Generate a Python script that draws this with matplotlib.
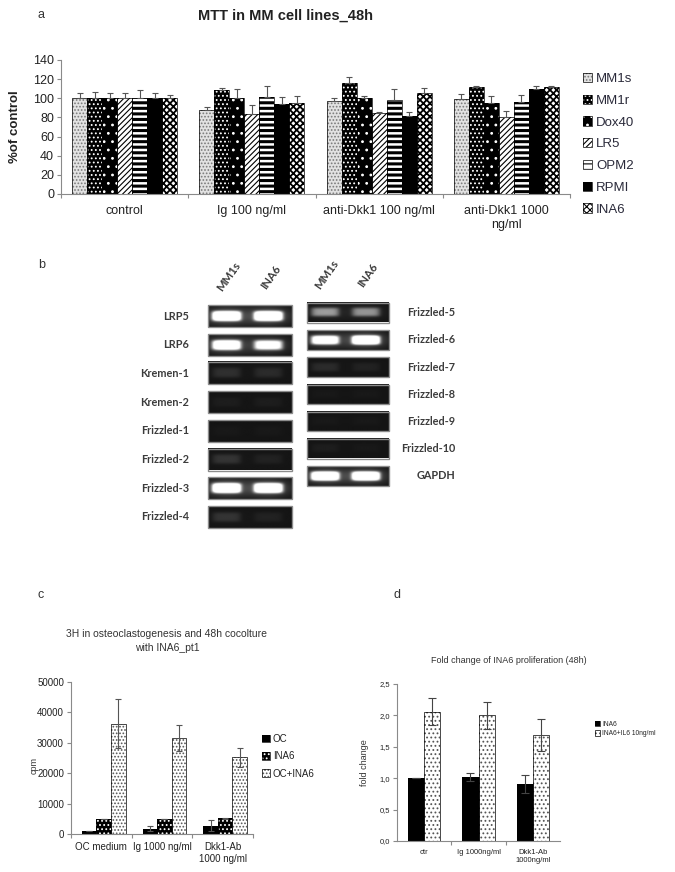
import matplotlib
matplotlib.use("Agg")
import matplotlib.pyplot as plt
from matplotlib.patches import Patch, Rectangle
import numpy as np

plt.rcParams['font.family'] = ['Liberation Sans', 'DejaVu Sans']
plt.rcParams['hatch.linewidth'] = 0.8

# ---- panel a data: MTT, % of control
mtt_groups = ["control", "Ig 100 ng/ml", "anti-Dkk1 100 ng/ml", "anti-Dkk1 1000\nng/ml"]
mtt_lines = ["MM1s", "MM1r", "Dox40", "LR5", "OPM2", "RPMI", "INA6"]
mtt_mean = [[100, 88, 97, 99],
            [100, 109, 116, 112],
            [100, 100, 100, 95],
            [100, 84, 85, 80],
            [100, 101, 98, 96],
            [100, 94, 81, 110],
            [100, 95, 105, 112]]
mtt_err = [[6, 3, 3, 5],
           [7, 2, 6, 1],
           [6, 10, 2, 7],
           [6, 9, 1, 7],
           [9, 12, 12, 7],
           [6, 7, 5, 3],
           [3, 7, 6, 1]]

# ---- panel b data: RT-PCR band strength (0 = none, 1 = saturated)
lanes = ["MM1s", "INA6"]
left_genes = ["LRP5", "LRP6", "Kremen-1", "Kremen-2", "Frizzled-1", "Frizzled-2", "Frizzled-3", "Frizzled-4"]
left_bands = [[1.0, 1.0], [0.85, 0.65], [0.06, 0.05], [0.02, 0.02],
              [0.01, 0.01], [0.07, 0.03], [1.0, 1.0], [0.07, 0.03]]
right_genes = ["Frizzled-5", "Frizzled-6", "Frizzled-7", "Frizzled-8", "Frizzled-9", "Frizzled-10", "GAPDH"]
right_bands = [[0.3, 0.28], [0.75, 1.0], [0.05, 0.03], [0.01, 0.01],
               [0.01, 0.01], [0.02, 0.01], [1.0, 1.0]]

# ---- panel c data: 3H, cpm
c_groups = ["OC medium", "Ig 1000 ng/ml", "Dkk1-Ab\n1000 ng/ml"]
c_series = ["OC", "INA6", "OC+INA6"]
c_mean = [[1000, 1700, 2700], [5000, 5000, 5100], [36300, 31600, 25200]]
c_err = [[0, 800, 1800], [0, 0, 200], [8000, 4200, 3100]]

# ---- panel d data: fold change
d_groups = ["ctr", "Ig 1000ng/ml", "Dkk1-Ab\n1000ng/ml"]
d_series = ["INA6", "INA6+IL6 10ng/ml"]
d_mean = [[1.0, 1.02, 0.91], [2.06, 2.0, 1.69]]
d_err = [[0, 0.06, 0.14], [0.21, 0.21, 0.26]]

W, H = 675, 872
fig = plt.figure(figsize=(W / 100, H / 100), dpi=100)

ov = fig.add_axes([0, 0, 1, 1])
ov.set_xlim(0, W)
ov.set_ylim(H, 0)
ov.axis('off')


def box(l, t, r, b):
    return fig.add_axes([l / W, 1 - b / H, (r - l) / W, (b - t) / H])


def hatched_bar(ax, x, h, w, fc, hc, hatch, hlw=None):
    bars = ax.bar(x, h, w, color=fc, edgecolor=hc, hatch=hatch, linewidth=0, zorder=2)
    if hlw is not None:
        for b in bars:
            try:
                b.set_hatch_linewidth(hlw)
            except AttributeError:
                pass
    ax.bar(x, h, w, fill=False, edgecolor='black', linewidth=0.5, zorder=3)


def legend_handles(styles):
    out = []
    for s in styles:
        p = Patch(facecolor=s[0], edgecolor=s[1], hatch=s[2], linewidth=0)
        frame = Patch(fill=False, edgecolor='black', linewidth=0.5)
        out.append((p, frame))
    return out


def style_axes(ax, tick_size):
    for s in ('top', 'right'):
        ax.spines[s].set_visible(False)
    for s in ('left', 'bottom'):
        ax.spines[s].set_color('#8a8a8a')
        ax.spines[s].set_linewidth(0.8)
    ax.tick_params(axis='y', direction='out', length=3, color='#8a8a8a',
                   labelsize=tick_size, labelcolor='#222222', pad=2)
    ax.tick_params(axis='x', which='major', direction='out', length=3,
                   color='#8a8a8a', labelbottom=False)
    ax.tick_params(axis='x', which='minor', length=0, labelsize=tick_size,
                   labelcolor='#222222')


# ================= panel a
ov.text(38, 15, "a", fontsize=9, va='center', color='#333333')
ov.text(285, 16, "MTT in MM cell lines_48h", fontsize=10.5, fontweight='bold',
        ha='center', va='center', color='#222222')

a_styles = [('#e2e2e2', '#7a7a7a', '.....', None),
            ('black', 'white', '....', None),
            ('black', 'white', '..', None),
            ('white', 'black', '//////', None),
            ('white', 'black', '---', 2.2),
            ('black', 'black', '', None),
            ('white', 'black', 'xxxxx', 1.3)]

ax = box(61, 60, 570, 194)
gx = np.arange(len(mtt_groups))
bw = 0.118
for i, name in enumerate(mtt_lines):
    fc, hc, hatch, hlw = a_styles[i]
    xs = gx + (i - 3) * bw
    hatched_bar(ax, xs, mtt_mean[i], bw, fc, hc, hatch, hlw)
    ax.errorbar(xs, mtt_mean[i], yerr=[np.zeros(len(gx)), mtt_err[i]], fmt='none',
                ecolor='#555555', elinewidth=0.8, capsize=2.5, capthick=0.8, zorder=4)
ax.set_xlim(-0.5, len(mtt_groups) - 0.5)
ax.set_ylim(0, 140)
ax.set_yticks(np.arange(0, 141, 20))
ax.set_xticks(np.arange(-0.5, len(mtt_groups), 1.0))
ax.set_xticks(gx, minor=True)
ax.set_xticklabels(mtt_groups, minor=True, fontsize=9)
style_axes(ax, 9)
ax.tick_params(axis='x', which='minor', pad=8)
ax.set_ylabel("%of control", fontsize=9.5, fontweight='bold', color='#222222')
ax.yaxis.set_label_coords(-0.078, 0.5)

ax.legend(legend_handles(a_styles), mtt_lines, loc='upper left',
          bbox_to_anchor=(583 / W, 1 - 73 / H),
          bbox_transform=fig.transFigure, frameon=False, fontsize=9.5,
          handlelength=0.7, handleheight=0.7, handletextpad=0.3,
          labelspacing=0.72, borderpad=0, borderaxespad=0, labelcolor='#2a2a3a')

# ================= panel b (gel)
ov.text(38, 265, "b", fontsize=9, va='center', color='#333333')
gel_font = dict(family=['Lato', 'DejaVu Sans'], fontweight='bold', fontsize=7.8, color='#3c3c3c')
lane_pos = [0.22, 0.72]


def band_image(levels, h=40, w=170):
    yy = np.linspace(-1, 1, h)[:, None]
    xx = np.linspace(0, 1, w)[None, :]
    img = np.full((h, w), 0.08)
    for c, v in zip(lane_pos, levels):
        core = np.exp(-((xx - c) / 0.17) ** 6) * np.exp(-(yy / 0.45) ** 4)
        glow = np.exp(-((xx - c) / 0.25) ** 2) * np.exp(-(yy / 0.8) ** 2)
        img = img + v * (1.5 * core + 0.3 * glow)
    return np.clip(img, 0, 1)


def draw_gel(x0, x1, top0, pitch, rh, genes, bands, label_x):
    for k, (g, lv) in enumerate(zip(genes, bands)):
        t = top0 + k * pitch
        ov.imshow(band_image(lv), cmap='gray', vmin=0, vmax=1, aspect='auto',
                  extent=(x0, x1, t + rh, t), interpolation='bilinear', zorder=1)
        ov.add_patch(Rectangle((x0, t), x1 - x0, rh, fill=False, edgecolor='#8c8c8c',
                               linewidth=1.0, zorder=2))
        ov.text(label_x, t + rh / 2, g, ha='right', va='center', **gel_font)
    for c, name in zip(lane_pos, lanes):
        ov.text(x0 + c * (x1 - x0) + 2, top0 - 28, name, rotation=55, ha='center',
                va='center', **dict(gel_font, fontsize=8.2))


draw_gel(208, 292, 305, 28.7, 22, left_genes, left_bands, 189)
draw_gel(307, 389, 303, 27.2, 19.5, right_genes, right_bands, 455)
ov.set_xlim(0, W)
ov.set_ylim(H, 0)

# ================= panel c
ov.text(38, 595, "c", fontsize=9, va='center', color='#333333')
ov.text(167, 641, "3H in osteoclastogenesis and 48h cocolture\nwith INA6_pt1", fontsize=7.5,
        ha='center', va='center', color='#333333', linespacing=1.5)
c_styles = [('black', 'black', ''), ('black', 'white', '....'), ('white', '#555555', '.....')]
axc = box(71, 682, 253, 834)
cx = np.arange(len(c_groups))
cw = 0.24
for i, name in enumerate(c_series):
    fc, hc, hatch = c_styles[i]
    xs = cx + (i - 1) * cw + 0.04
    hatched_bar(axc, xs, c_mean[i], cw, fc, hc, hatch)
    axc.errorbar(xs, c_mean[i], yerr=c_err[i], fmt='none', ecolor='#555555',
                 elinewidth=0.8, capsize=2.5, capthick=0.8, zorder=4)
axc.set_xlim(-0.5, len(c_groups) - 0.5)
axc.set_ylim(0, 50000)
axc.set_yticks(np.arange(0, 50001, 10000))
axc.set_xticks(np.arange(-0.5, len(c_groups), 1.0))
axc.set_xticks(cx, minor=True)
axc.set_xticklabels(c_groups, minor=True, fontsize=7)
style_axes(axc, 7)
axc.tick_params(axis='x', which='minor', pad=6)
axc.set_ylabel("cpm", fontsize=6.5, color='#333333')
axc.yaxis.set_label_coords(-0.18, 0.45)
axc.legend(legend_handles(c_styles), c_series, loc='upper left',
           bbox_to_anchor=(262 / W, 1 - 734 / H),
           bbox_transform=fig.transFigure, frameon=False, fontsize=7,
           handlelength=0.8, handleheight=0.8, handletextpad=0.3,
           labelspacing=0.75, borderpad=0, borderaxespad=0, labelcolor='#222222')

# ================= panel d
ov.text(393, 595, "d", fontsize=9, va='center', color='#333333')
ov.text(509, 660, "Fold change of INA6 proliferation (48h)", fontsize=6.5,
        ha='center', va='center', color='#333333')
d_styles = [('black', 'black', ''), ('white', '#555555', '....')]
axd = box(397, 684, 560, 841)
dx = np.arange(len(d_groups))
dw = 0.3
for i, name in enumerate(d_series):
    fc, hc, hatch = d_styles[i]
    xs = dx + (i - 0.5) * dw
    hatched_bar(axd, xs, d_mean[i], dw, fc, hc, hatch)
    axd.errorbar(xs, d_mean[i], yerr=d_err[i], fmt='none', ecolor='#444444',
                 elinewidth=0.8, capsize=3, capthick=0.8, zorder=4)
axd.set_xlim(-0.5, len(d_groups) - 0.5)
axd.set_ylim(0, 2.5)
dticks = np.arange(0, 2.51, 0.5)
axd.set_yticks(dticks)
axd.set_yticklabels([f"{t:.1f}".replace('.', ',') for t in dticks])
axd.set_xticks(np.arange(0.5, len(d_groups) - 1, 1.0))
axd.set_xticks(dx, minor=True)
axd.set_xticklabels(d_groups, minor=True, fontsize=5.5)
style_axes(axd, 5.5)
axd.tick_params(axis='x', which='minor', pad=6)
axd.set_ylabel("fold change", fontsize=6.5, color='#333333')
axd.yaxis.set_label_coords(-0.17, 0.5)
axd.legend(legend_handles(d_styles), d_series, loc='upper left',
           bbox_to_anchor=(595 / W, 1 - 721 / H),
           bbox_transform=fig.transFigure, frameon=False, fontsize=4.8,
           handlelength=0.8, handleheight=0.8, handletextpad=0.3,
           labelspacing=0.35, borderpad=0, borderaxespad=0, labelcolor='#222222')

fig.savefig("out.png", dpi=100)
